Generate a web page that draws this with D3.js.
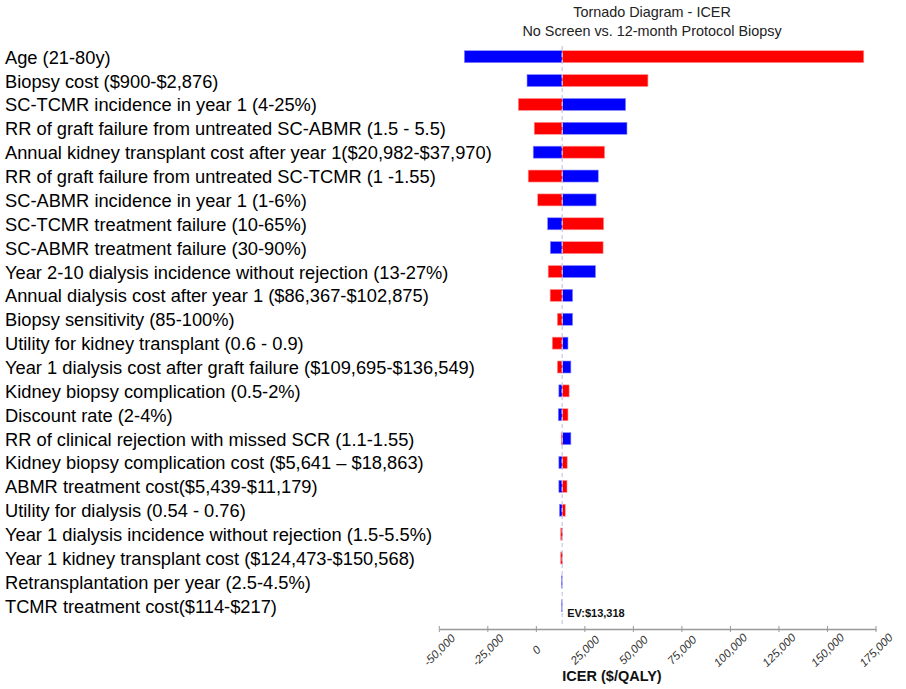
<!DOCTYPE html>
<html>
<head>
<meta charset="utf-8">
<script src="https://cdn.jsdelivr.net/npm/d3@7"></script>
<style>
  body { margin: 0; background: #fff; }
  svg { font-family: "Liberation Sans", Arial, sans-serif; }
</style>
</head>
<body>
<script>
// Parameters (top to bottom)
const params = [
  "Age (21-80y)",
  "Biopsy cost ($900-$2,876)",
  "SC-TCMR incidence in year 1 (4-25%)",
  "RR of graft failure from untreated SC-ABMR (1.5 - 5.5)",
  "Annual kidney transplant cost after year 1($20,982-$37,970)",
  "RR of graft failure from untreated SC-TCMR (1 -1.55)",
  "SC-ABMR incidence in year 1 (1-6%)",
  "SC-TCMR treatment failure (10-65%)",
  "SC-ABMR treatment failure (30-90%)",
  "Year 2-10 dialysis incidence without rejection (13-27%)",
  "Annual dialysis cost after year 1 ($86,367-$102,875)",
  "Biopsy sensitivity (85-100%)",
  "Utility for kidney transplant (0.6 - 0.9)",
  "Year 1 dialysis cost after graft failure ($109,695-$136,549)",
  "Kidney biopsy complication (0.5-2%)",
  "Discount rate (2-4%)",
  "RR of clinical rejection with missed SCR (1.1-1.55)",
  "Kidney biopsy complication cost ($5,641 \u2013 $18,863)",
  "ABMR treatment cost($5,439-$11,179)",
  "Utility for dialysis (0.54 - 0.76)",
  "Year 1 dialysis incidence without rejection (1.5-5.5%)",
  "Year 1 kidney transplant cost ($124,473-$150,568)",
  "Retransplantation per year (2.5-4.5%)",
  "TCMR treatment cost($114-$217)"
];

// ICER at low input value (blue) and high input value (red)
const lowICER = [-37100, -4800, 46000, 46700, -1600, 31900, 30800, 5800, 7200, 30500,
  18700, 18700, 16300, 17800, 11600, 11300, 17800, 11600, 11600, 11900,
  13500, 13400, 12900, 13000];
const highICER = [168700, 57500, -9300, -1100, 35200, -4200, 700, 34700, 34400, 6100,
  7100, 10800, 8200, 10800, 16900, 16300, 12800, 15900, 15800, 14900,
  12500, 12500, 13318, 13318];

const ev = 13318;
const xTicks = [-50000, -25000, 0, 25000, 50000, 75000, 100000, 125000, 150000, 175000];

const width = 906, height = 689;

const svg = d3.select("body").append("svg")
  .attr("width", width)
  .attr("height", height);

const x = d3.scaleLinear()
  .domain([-50000, 175000])
  .range([439.3, 876]);

const y = d3.scalePoint()
  .domain(params)
  .range([56.7, 605.7]);

const barH = 12;

// Title
svg.append("text")
  .attr("x", 652).attr("y", 17)
  .attr("text-anchor", "middle")
  .style("font-size", "14.4px").style("fill", "#222")
  .text("Tornado Diagram - ICER");
svg.append("text")
  .attr("x", 652).attr("y", 36)
  .attr("text-anchor", "middle")
  .style("font-size", "14.4px").style("fill", "#222")
  .text("No Screen vs. 12-month Protocol Biopsy");

// Parameter labels
svg.selectAll(".plabel")
  .data(params)
  .enter().append("text")
  .attr("class", "plabel")
  .attr("x", 5)
  .attr("y", d => y(d) + 7)
  .style("font-size", "18.3px")
  .style("fill", "#000")
  .text(d => d);

// Bars
const rows = params.map((p, i) => ({ p, low: lowICER[i], high: highICER[i] }));

function drawBars(key, color) {
  svg.selectAll(".bar-" + key)
    .data(rows)
    .enter().append("rect")
    .attr("class", "bar-" + key)
    .attr("x", d => Math.min(x(ev), x(d[key])))
    .attr("y", d => y(d.p) - barH / 2)
    .attr("width", d => Math.abs(x(d[key]) - x(ev)))
    .attr("height", barH)
    .style("fill", color)
    .style("stroke", color === "#0000ff" ? "#8c8cff" : "#ff9a9a")
    .style("stroke-width", 0.6);
}
drawBars("low", "#0000ff");
drawBars("high", "#ff0000");

// EV line
svg.append("line")
  .attr("x1", x(ev)).attr("x2", x(ev))
  .attr("y1", 46).attr("y2", 624)
  .style("stroke", "#c8c8e6")
  .style("stroke-width", 1.2)
  .style("stroke-dasharray", "4,3");

svg.append("text")
  .attr("x", x(ev) + 5).attr("y", 617)
  .style("font-size", "11px").style("font-weight", "bold")
  .style("fill", "#111")
  .text("EV:$" + d3.format(",")(ev));

// X axis
const axisY = 629;
const axis = svg.append("g")
  .attr("transform", `translate(0, ${axisY})`)
  .call(d3.axisBottom(x).tickValues(xTicks).tickSize(0).tickFormat(""));
axis.select(".domain").style("stroke", "#999").style("stroke-width", 1.5);

svg.selectAll(".tickmark")
  .data(xTicks)
  .enter().append("line")
  .attr("x1", d => x(d)).attr("x2", d => x(d))
  .attr("y1", axisY - 3).attr("y2", axisY + 3)
  .style("stroke", "#999");

svg.selectAll(".ticklabel")
  .data(xTicks)
  .enter().append("text")
  .attr("transform", d => `translate(${x(d)}, ${axisY + 21}) rotate(-45)`)
  .attr("text-anchor", "middle")
  .attr("dy", "0.35em")
  .style("font-size", "11.5px")
  .style("font-style", "italic")
  .style("fill", "#333")
  .text(d => d3.format(",")(d).replace("\u2212", "-"));

svg.append("text")
  .attr("x", 612).attr("y", 681)
  .attr("text-anchor", "middle")
  .style("font-size", "14.5px").style("font-weight", "bold")
  .style("fill", "#111")
  .text("ICER ($/QALY)");
</script>
</body>
</html>
